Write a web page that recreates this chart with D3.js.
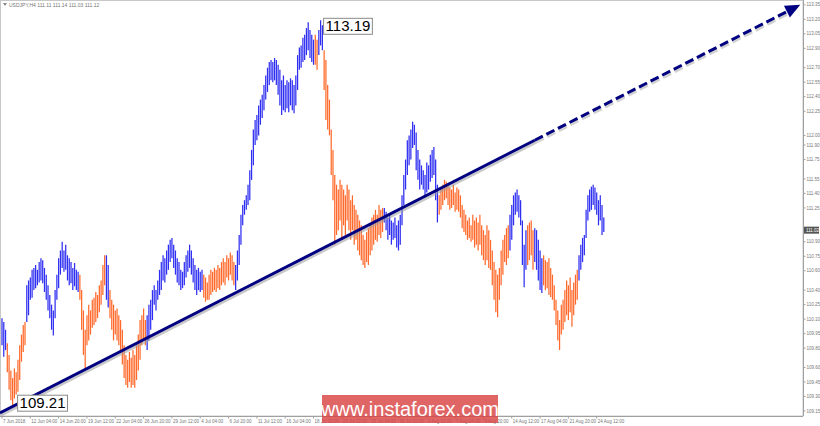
<!DOCTYPE html>
<html><head><meta charset="utf-8">
<script src="https://cdn.jsdelivr.net/npm/d3@7"></script>
<style>body{margin:0;background:#fff}svg{display:block}</style>
</head><body><svg id="c" width="820" height="426"></svg>
<script>
// ---- DATA (USDJPY, H4 bars: high / low) ----
const highs = [110.11,110.07,109.99,109.85,109.73,109.57,109.49,109.59,109.55,109.68,109.83,109.94,110.04,110.07,110.45,110.50,110.53,110.61,110.63,110.66,110.61,110.69,110.73,110.71,110.63,110.56,110.45,110.35,110.25,110.19,110.40,110.56,110.73,110.81,110.90,110.81,110.87,110.76,110.73,110.69,110.63,110.68,110.61,110.59,
110.56,110.40,110.19,109.99,110.14,110.25,110.19,110.30,110.32,110.38,110.35,110.45,110.50,110.66,110.76,110.76,110.66,
110.40,110.30,110.25,110.19,110.21,110.14,110.09,109.99,109.83,109.73,109.68,109.76,109.70,109.78,109.73,109.83,109.94,110.09,110.14,110.21,110.09,
110.14,110.25,110.30,110.40,110.45,110.40,110.50,110.61,110.69,110.76,110.73,110.81,110.87,110.92,110.94,110.87,110.81,110.73,110.69,110.61,110.59,110.69,110.76,110.81,110.87,110.81,110.73,110.66,110.61,110.63,110.59,110.61,
110.56,110.53,110.48,110.56,110.61,110.59,110.63,110.61,110.66,110.63,110.69,110.73,110.69,110.76,110.73,110.79,110.76,110.69,
110.66,110.81,110.97,111.18,111.28,111.33,111.38,111.49,111.64,111.85,112.06,112.16,112.21,112.31,112.37,112.42,112.52,112.62,112.70,112.76,112.78,112.76,112.80,112.78,112.73,112.68,112.57,112.62,112.52,112.57,112.55,112.59,112.57,112.52,112.62,112.83,112.91,112.93,113.01,113.04,113.11,113.17,113.09,113.04,112.99,
113.04,112.99,113.09,113.19,113.14,
112.88,112.78,112.52,112.37,112.06,111.85,111.59,111.49,111.44,111.54,111.49,111.44,111.38,111.49,111.44,111.33,111.38,111.28,111.23,111.18,111.12,111.07,110.97,110.92,111.00,111.04,111.07,111.15,111.18,111.23,111.18,111.28,111.23,111.25,
111.25,111.21,111.15,111.18,111.12,111.10,111.15,111.07,111.12,111.18,111.38,111.59,111.75,111.95,112.00,112.06,112.14,112.11,112.03,111.85,111.75,111.69,111.64,111.59,111.72,111.69,111.80,111.85,111.88,111.75,111.49,
111.38,111.44,111.49,111.54,111.52,111.49,111.46,111.44,111.49,111.41,111.46,111.44,111.38,111.28,111.23,111.18,111.12,111.15,111.07,111.18,111.12,111.15,111.10,111.18,111.07,111.02,110.97,111.07,111.02,110.92,110.81,110.69,110.61,110.56,110.63,110.81,110.92,110.97,111.04,111.07,
111.18,111.28,111.38,111.41,111.44,111.38,111.33,111.12,110.87,111.02,
111.07,111.10,111.12,111.02,
111.04,111.02,110.92,110.81,110.73,
110.76,110.71,110.69,110.73,110.63,110.56,110.45,110.30,110.19,110.09,110.25,110.30,110.40,110.50,110.45,110.53,110.40,110.48,110.56,110.61,
110.76,110.87,110.94,110.97,111.23,111.38,111.44,111.47,111.49,111.46,111.41,111.33,111.38,111.28,111.15];
const lows = [109.83,109.71,109.78,109.55,109.37,109.26,109.21,109.28,109.32,109.35,109.47,109.66,109.76,109.83,110.07,110.14,110.30,110.32,110.40,110.42,110.45,110.48,110.50,110.47,110.38,110.30,110.19,110.11,109.99,109.93,110.11,110.30,110.42,110.56,110.63,110.59,110.61,110.50,110.45,110.47,110.40,110.44,110.40,110.38,
110.30,109.99,109.73,109.59,109.83,109.88,109.94,110.01,110.04,110.07,110.11,110.17,110.25,110.35,110.45,110.30,110.22,
110.11,109.99,109.88,109.94,109.88,109.83,109.78,109.63,109.49,109.42,109.39,109.45,109.39,109.42,109.39,109.47,109.57,109.68,109.83,109.88,109.83,
109.78,109.88,109.99,110.09,110.25,110.19,110.30,110.35,110.40,110.50,110.48,110.56,110.61,110.69,110.73,110.63,110.56,110.48,110.45,110.40,110.42,110.45,110.53,110.59,110.63,110.56,110.48,110.40,110.35,110.40,110.38,110.40,
110.32,110.28,110.30,110.30,110.35,110.38,110.40,110.38,110.42,110.40,110.45,110.48,110.45,110.53,110.50,110.56,110.50,110.45,
110.40,110.50,110.66,110.87,111.07,111.18,111.23,111.28,111.33,111.54,111.69,111.90,111.95,112.00,112.11,112.18,112.26,112.37,112.45,112.52,112.57,112.55,112.57,112.52,112.42,112.31,112.21,112.26,112.24,112.28,112.24,112.31,112.26,112.23,112.31,112.47,112.68,112.70,112.76,112.78,112.83,112.88,112.80,112.76,112.73,
112.73,112.68,112.83,112.93,112.88,
112.47,112.16,112.06,112.00,111.59,111.33,110.87,110.97,111.02,111.12,110.92,111.07,110.97,111.12,111.02,110.92,111.02,110.87,110.92,110.81,110.76,110.71,110.66,110.63,110.69,110.66,110.76,110.81,110.87,110.92,110.90,110.97,110.94,111.00,
111.10,111.02,110.92,110.97,110.87,110.92,110.94,110.84,110.81,110.87,111.07,111.28,111.44,111.59,111.69,111.75,111.87,111.90,111.64,111.54,111.44,111.49,111.44,111.38,111.41,111.44,111.52,111.56,111.59,111.33,111.10,
111.18,111.23,111.28,111.33,111.35,111.28,111.23,111.25,111.28,111.21,111.23,111.21,111.15,111.04,111.00,110.97,110.92,110.94,110.90,110.92,110.84,110.87,110.81,110.87,110.76,110.71,110.66,110.71,110.63,110.61,110.45,110.30,110.17,110.12,110.30,110.45,110.56,110.69,110.66,110.73,
110.81,110.92,111.07,111.18,111.21,111.15,111.07,110.66,110.43,110.61,
110.66,110.71,110.76,110.61,
110.69,110.61,110.50,110.40,110.37,
110.45,110.40,110.42,110.35,110.33,110.30,110.19,110.04,109.88,109.78,109.94,109.99,110.07,110.14,110.09,110.17,110.02,110.14,110.25,110.30,
110.50,110.61,110.69,110.76,110.94,111.12,111.21,111.23,111.28,111.23,111.18,111.07,111.12,110.97,111.00];
// wave colouring: first bar index of each wave, alternating up / down
const waveStarts = [0,3,14,44,59,61,82,114,132,177,179,182,216,247,287,297,301,306,326];
const waveDirs = ["up","down","up","down","up","down","up","down","up","down","up","down","up","down","up","down","up","down","up"];
const yTickLabels = ["113.35","113.20","113.05","112.90","112.70","112.55","112.40","112.25","112.00","111.90","111.75","111.55","111.40","111.25","110.90","110.75","110.60","110.40","110.25","110.10","109.95","109.80","109.60","109.45","109.30","109.15"];
const xTickLabels = ["7 Jun 2018","12 Jun 04:00","14 Jun 20:00","19 Jun 12:00","22 Jun 04:00","26 Jun 20:00","29 Jun 12:00","4 Jul 04:00","6 Jul 20:00","11 Jul 12:00","16 Jul 04:00","18 Jul 20:00","23 Jul 12:00","26 Jul 04:00","30 Jul 20:00","2 Aug 12:00","7 Aug 04:00","9 Aug 20:00","14 Aug 12:00","17 Aug 04:00","21 Aug 20:00","24 Aug 12:00"];
const barsPerXLabel = 16;
const title = "USDJPY,H4  111.11 111.14 111.03 111.12";
const lastPrice = "111.02";
const highLabel = {i:180, price:113.19, text:"113.19"};
const lowLabel = {i:6, price:109.21, text:"109.21"};
// trend line (bar index, price)
const trendStart = [-1.13, 109.13];
const trendEnd = [451, 113.35];
const trendDashFrom = 301;
const watermark = "www.instaforex.com";

// ---- DRAW ----
const svg = d3.select("#c");
const axisX = 803, axisY = 416;
const x = d3.scaleLinear().domain([0, 340]).range([2, 2 + 340*1.77]);
const y = d3.scaleLinear().domain([113.40, 109.21]).range([0, 405.2]);
const colUp = "#2f2ff2", colDown = "#ff6a2c";
const tinyFont = "Liberation Sans, Arial, sans-serif";

// frame
svg.append("rect").attr("x",0.5).attr("y",0.5).attr("width",axisX-0.5).attr("height",axisY-0.5)
  .attr("fill","#fff").attr("stroke","#c8c8c8").attr("stroke-width",1);

// title
svg.append("path").attr("d","M3,3 L7,3 L5,6 Z").attr("fill","#888");
svg.append("text").attr("x",9).attr("y",6.5).attr("font-family",tinyFont)
  .attr("font-size",5).attr("fill","#777").text(title);

// colour per bar
function dirOf(i){ let d = waveDirs[0]; for(let k=0;k<waveStarts.length;k++){ if(i>=waveStarts[k]) d = waveDirs[k]; } return d; }
const bars = highs.map((h,i)=>({i, h, l: lows[i], d: dirOf(i)}));
svg.append("g").selectAll("line").data(bars).join("line")
  .attr("x1", d=>x(d.i)).attr("x2", d=>x(d.i))
  .attr("y1", d=>y(d.h)).attr("y2", d=>y(d.l))
  .attr("stroke", d=> d.d==="up"?colUp:colDown).attr("stroke-width",1.25);

// trend line
const tx0 = x(trendStart[0]), ty0 = y(trendStart[1]);
const tx1 = x(trendEnd[0]), ty1 = y(trendEnd[1]);
const frac = (trendDashFrom - trendStart[0])/(trendEnd[0]-trendStart[0]);
const mx = tx0 + (tx1-tx0)*frac, my = ty0 + (ty1-ty0)*frac;
const ang = Math.atan2(ty1-ty0, tx1-tx0);
const ahLen = 15, ahW = 6.5;
const bx = tx1 - ahLen*Math.cos(ang), by = ty1 - ahLen*Math.sin(ang);
const tg = svg.append("g");
tg.append("line").attr("x1",tx0+1).attr("y1",ty0+2.5).attr("x2",mx+1).attr("y2",my+2.5)
  .attr("stroke","#9a9a9a").attr("stroke-opacity",0.55).attr("stroke-width",2.5);
tg.append("line").attr("x1",mx+1).attr("y1",my+2.5).attr("x2",bx+1).attr("y2",by+2.5)
  .attr("stroke","#9a9a9a").attr("stroke-opacity",0.45).attr("stroke-width",2.5).attr("stroke-dasharray","9,4");
tg.append("line").attr("x1",tx0).attr("y1",ty0).attr("x2",mx).attr("y2",my)
  .attr("stroke","#000080").attr("stroke-width",3);
tg.append("line").attr("x1",mx).attr("y1",my).attr("x2",bx).attr("y2",by)
  .attr("stroke","#000080").attr("stroke-width",3).attr("stroke-dasharray","9,4");
const px = -Math.sin(ang), py = Math.cos(ang);
tg.append("path").attr("d",`M${tx1},${ty1} L${bx+px*ahW},${by+py*ahW} L${bx-px*ahW},${by-py*ahW} Z`)
  .attr("fill","#000080");

// high / low labels
function priceLabel(o, dx, dy){
  const g = svg.append("g");
  const t = g.append("text").attr("x", x(o.i)+dx).attr("y", y(o.price)+dy)
    .attr("font-family","Liberation Sans, Arial, sans-serif").attr("font-size",15).attr("fill","#000").text(o.text);
  const bb = t.node().getBBox();
  g.insert("rect","text").attr("x",bb.x-2).attr("y",bb.y+1).attr("width",bb.width+4).attr("height",bb.height-1)
    .attr("fill","#fff").attr("stroke","#8a8a8a").attr("stroke-width",1);
}
priceLabel(highLabel, 5, 11);
priceLabel(lowLabel, 7, 3);

// right axis
svg.append("line").attr("x1",axisX+0.5).attr("x2",axisX+0.5).attr("y1",0).attr("y2",axisY).attr("stroke","#a0a0a0");
const ya = svg.append("g");
yTickLabels.forEach(s=>{
  const v = +s, yy = y(v);
  ya.append("line").attr("x1",axisX).attr("x2",axisX+2.5).attr("y1",yy).attr("y2",yy).attr("stroke","#a0a0a0");
  ya.append("text").attr("x",axisX+3.5).attr("y",yy+1.6).attr("font-family",tinyFont)
    .attr("font-size",4.5).attr("fill","#777").text(s);
});
// current price box
const cy = y(+lastPrice);
svg.append("rect").attr("x",axisX+1).attr("y",cy-3.5).attr("width",15).attr("height",7).attr("fill","#555");
svg.append("text").attr("x",axisX+3).attr("y",cy+1.6).attr("font-family",tinyFont)
  .attr("font-size",4.5).attr("fill","#fff").text(lastPrice);

// bottom axis
svg.append("line").attr("x1",0).attr("x2",axisX).attr("y1",axisY+0.5).attr("y2",axisY+0.5).attr("stroke","#a0a0a0");
const xa = svg.append("g");
xTickLabels.forEach((s,k)=>{
  const xx = x(k*barsPerXLabel);
  xa.append("line").attr("x1",xx).attr("x2",xx).attr("y1",axisY).attr("y2",axisY+2.5).attr("stroke","#a0a0a0");
  xa.append("text").attr("x",xx+1).attr("y",axisY+7).attr("font-family",tinyFont)
    .attr("font-size",4.5).attr("fill","#777").text(s);
});

// watermark
svg.append("rect").attr("x",322).attr("y",395).attr("width",176).attr("height",28)
  .attr("fill","#d94444").attr("fill-opacity",0.82);
svg.append("text").attr("x",410).attr("y",416).attr("text-anchor","middle")
  .attr("font-family","Liberation Sans, Arial, sans-serif").attr("font-size",20).attr("fill","#fff").text(watermark);
</script></body></html>
